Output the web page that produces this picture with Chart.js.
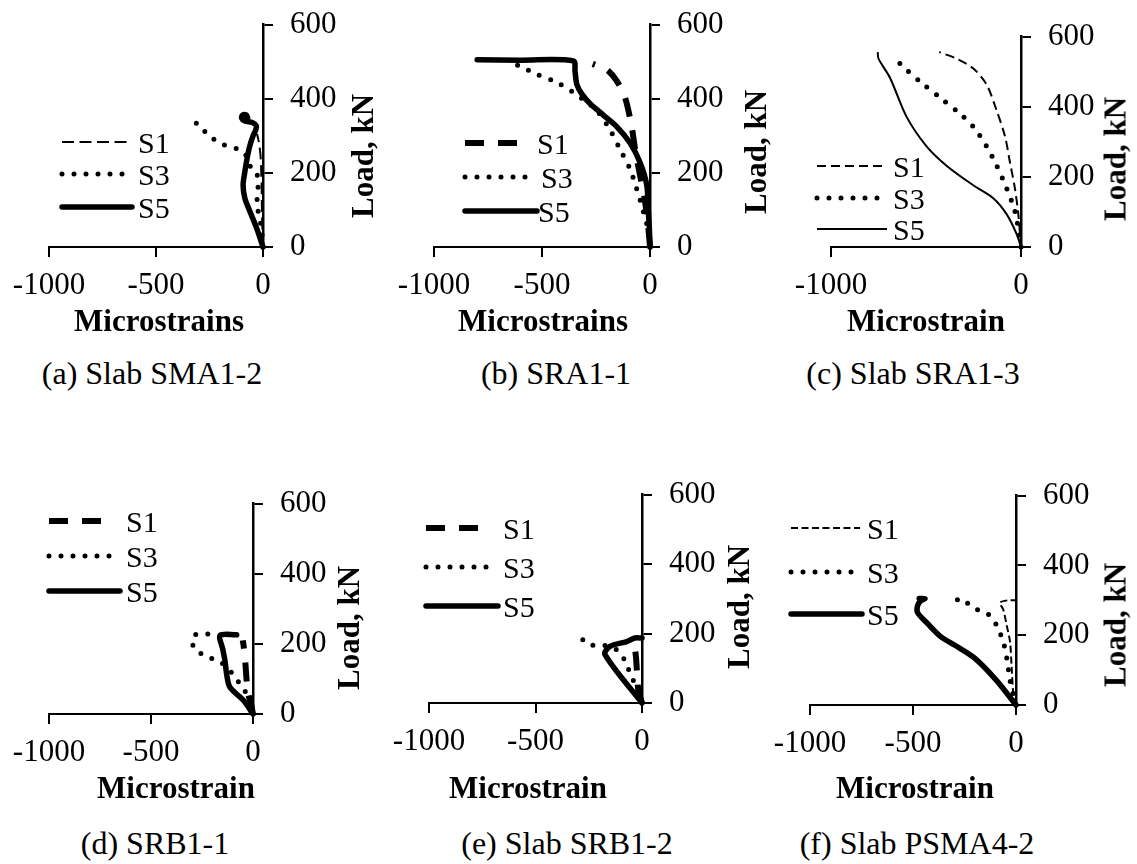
<!DOCTYPE html>
<html><head><meta charset="utf-8">
<script src="https://cdn.jsdelivr.net/npm/chart.js@4.4.1/dist/chart.umd.min.js"></script>
<style>
html,body{margin:0;padding:0;background:#fff;}
#fig{position:relative;width:1137px;height:864px;overflow:hidden;background:#fff;font-family:"Liberation Serif","Times New Roman",serif;color:#000;}
#fig canvas{position:absolute;}
.t{position:absolute;white-space:nowrap;line-height:1;transform:translateX(-50%);}
.cap{font-size:32px;}
.xt{font-size:31px;font-weight:bold;}
.yt{position:absolute;white-space:nowrap;line-height:1;font-size:31px;font-weight:bold;transform:translate(-50%,-50%) rotate(-90deg);}
</style></head><body><div id="fig"></div>
<script>
// ---------------- data (microstrain, load kN) ----------------
const seriesNames = ['S1', 'S3', 'S5'];
const xTicksMain = [-1000, -500, 0];
const xTicksWide = [-1000, 0];
const yTicks = [0, 200, 400, 600];

const a_S1 = [[0,0],[-3,50],[-5,100],[-6,150],[-8,200],[-12,250],[-20,285],[-28,305]];
const a_S3 = [[0,0],[-8,53],[-23,97],[-28,123],[-23,167],[-31,202],[-62,220],[-78,246],[-117,264],[-187,277],[-249,299],[-295,325],[-345,351]];
const a_S5 = [[0,0],[-31,53],[-62,97],[-85,132],[-93,167],[-85,202],[-75,237],[-62,272],[-47,299],[-34,316],[-31,327],[-50,336],[-85,340],[-100,348],[-95,356],[-78,356],[-72,349]];

const b_S1 = [[0,0],[-8,53],[-23,123],[-46,193],[-69,264],[-85,325],[-116,404],[-154,448],[-201,479],[-265,494]];
const b_S3 = [[0,0],[-8,44],[-31,97],[-62,158],[-93,211],[-139,264],[-185,316],[-247,369],[-293,391],[-355,417],[-432,444],[-525,466],[-580,482],[-640,497]];
const b_S5 = [[0,0],[-3,50],[-8,100],[-15,167],[-46,228],[-93,281],[-154,325],[-216,356],[-278,387],[-316,413],[-339,439],[-347,474],[-355,502],[-600,504],[-800,505]];

const c_S1 = [[0,0],[-14,93],[-32,167],[-58,241],[-84,315],[-128,389],[-181,463],[-251,509],[-339,537],[-430,556]];
const c_S3 = [[0,0],[-9,37],[-32,102],[-75,167],[-128,232],[-181,287],[-251,343],[-321,380],[-426,426],[-532,472],[-637,523],[-675,551]];
const c_S5 = [[0,0],[-23,37],[-75,93],[-146,139],[-251,176],[-392,232],[-497,287],[-602,371],[-689,482],[-750,537],[-754,556]];

const d_S1 = [[0,0],[-10,30],[-23,57],[-31,95],[-38,150],[-45,190],[-50,210]];
const d_S3 = [[0,0],[-6,20],[-31,57],[-64,85],[-97,113],[-162,150],[-211,160],[-260,174],[-292,192],[-296,215],[-284,226],[-244,228],[-195,228]];
const d_S5 = [[0,0],[-47,39],[-113,76],[-129,113],[-137,150],[-149,187],[-162,224],[-80,226]];

const e_S1 = [[0,0],[-17,37],[-22,75],[-25,103],[-28,130],[-33,159],[-35,170]];
const e_S3 = [[0,0],[-17,28],[-41,65],[-64,98],[-80,121],[-103,145],[-150,163],[-197,166],[-244,168],[-275,182],[-323,177]];
const e_S5 = [[0,0],[-174,140],[-150,163],[-72,177],[-33,187],[0,187]];

const f_S1 = [[0,0],[-13,33],[-21,107],[-29,181],[-45,228],[-62,274],[-78,293],[-40,300],[0,300]];
const f_S3 = [[0,0],[-29,70],[-45,135],[-62,181],[-94,228],[-126,256],[-175,270],[-223,284],[-256,304],[-304,298]];
const f_S5 = [[0,0],[-94,70],[-202,135],[-299,172],[-364,195],[-429,233],[-478,265],[-478,284],[-464,298],[-442,305],[-470,305]];

const captions = ['(a) Slab SMA1-2', '(b) SRA1-1', '(c) Slab SRA1-3', '(d) SRB1-1', '(e) Slab SRB1-2', '(f) Slab PSMA4-2'];
const xTitles = ['Microstrains', 'Microstrains', 'Microstrain', 'Microstrain', 'Microstrain', 'Microstrain'];
const yTitle = 'Load, kN';

// ---------------- styles & layout ----------------
const FONT = '"Liberation Serif", "Times New Roman", serif';
const STYLES = {
  thinDash:   {w:2,   dash:[12,5.5], cap:'butt'},
  thinDashC:  {w:2,   dash:[9,5],  cap:'butt'},
  shortDash:  {w:2,   dash:[7,3.5],  cap:'butt'},
  thickDash:  {w:6,   dash:[19,14], cap:'butt'},
  dotted:     {w:5,   dash:[0,12], cap:'round'},
  thickSolid: {w:5.5, dash:[],     cap:'round'},
  thinSolid:  {w:2,   dash:[],     cap:'butt'}
};

const panels = [
  {area:{l:49,t:19,w:214,h:228}, ticks:xTicksMain, data:[a_S1,a_S3,a_S5], st:['thinDash','dotted','thickSolid'],
   leg:[{x1:62,x2:127,y:142,tx:138},{x1:62,x2:127,y:174,tx:138},{x1:62,x2:132,y:207,tx:138}],
   cap:{x:152,y:357}, xt:{x:159,y:305}, yt:{x:362,y:156}},
  {area:{l:434,t:19,w:216,h:228}, ticks:xTicksMain, data:[b_S1,b_S3,b_S5], st:['thickDash','dotted','thickSolid'],
   leg:[{x1:465,x2:522,y:143,tx:537},{x1:465,x2:532,y:177,tx:541},{x1:465,x2:537,y:211,tx:538}],
   cap:{x:556,y:357}, xt:{x:543,y:305}, yt:{x:755,y:152}},
  {area:{l:831,t:31,w:190,h:216}, ticks:xTicksWide, data:[c_S1,c_S3,c_S5], st:['thinDashC','dotted','thinSolid'],
   leg:[{x1:817,x2:882,y:166,tx:893},{x1:817,x2:882,y:198,tx:893},{x1:817,x2:887,y:229,tx:893}],
   cap:{x:913,y:357}, xt:{x:926,y:305}, yt:{x:1115,y:159}},
  {area:{l:49,t:498,w:204,h:216}, ticks:xTicksMain, data:[d_S1,d_S3,d_S5], st:['thickDash','dotted','thickSolid'],
   leg:[{x1:49,x2:105,y:521,tx:126},{x1:49,x2:115,y:556,tx:126},{x1:49,x2:120,y:591,tx:126}],
   cap:{x:155,y:827}, xt:{x:176,y:772}, yt:{x:348,y:628}},
  {area:{l:429,t:489,w:213,h:214}, ticks:xTicksMain, data:[e_S1,e_S3,e_S5], st:['thickDash','dotted','thickSolid'],
   leg:[{x1:426,x2:482,y:528,tx:503},{x1:426,x2:492,y:567,tx:503},{x1:426,x2:498,y:606,tx:503}],
   cap:{x:567,y:827}, xt:{x:528,y:772}, yt:{x:738,y:607}},
  {area:{l:810,t:490,w:206,h:215}, ticks:xTicksMain, data:[f_S1,f_S3,f_S5], st:['shortDash','dotted','thickSolid'],
   leg:[{x1:791,x2:860,y:528,tx:867},{x1:791,x2:856,y:572,tx:867},{x1:791,x2:862,y:614,tx:867}],
   cap:{x:917,y:827}, xt:{x:915,y:772}, yt:{x:1115,y:625}}
];

const PL = 60, PT = 30, WY = 130, HX = 60;
const fig = document.getElementById('fig');

function addText(cls, txt, x, y) {
  const d = document.createElement('div');
  d.className = cls; d.textContent = txt;
  d.style.left = x + 'px'; d.style.top = y + 'px';
  fig.appendChild(d);
}

const legendPlugin = {
  id: 'inlineLegend',
  afterDatasetsDraw(chart, args, opts) {
    const ctx = chart.ctx;
    const p = opts.panel, ox = opts.ox, oy = opts.oy;
    ctx.save();
    p.leg.forEach((L, i) => {
      const s = STYLES[p.st[i]];
      ctx.beginPath();
      ctx.strokeStyle = '#000';
      ctx.lineWidth = s.w;
      ctx.lineCap = s.cap;
      ctx.setLineDash(s.dash);
      ctx.moveTo(L.x1 - ox, L.y - oy);
      ctx.lineTo(L.x2 - ox, L.y - oy);
      ctx.stroke();
      ctx.setLineDash([]);
      ctx.fillStyle = '#000';
      ctx.font = '30px ' + FONT;
      ctx.textAlign = 'left';
      ctx.textBaseline = 'alphabetic';
      ctx.fillText(seriesNames[i], L.tx - ox, L.y - oy + 11);
    });
    ctx.restore();
  }
};

function build() {
  Chart.defaults.font.family = FONT;
  panels.forEach((p, k) => {
    const cv = document.createElement('canvas');
    const W = PL + p.area.w + WY, H = PT + p.area.h + HX;
    cv.width = W; cv.height = H;
    cv.style.width = W + 'px'; cv.style.height = H + 'px';
    const ox = p.area.l - PL, oy = p.area.t - PT;
    cv.style.left = ox + 'px'; cv.style.top = oy + 'px';
    fig.appendChild(cv);

    const tickFont = {family: FONT, size: 31};
    new Chart(cv, {
      type: 'line',
      data: {
        datasets: p.data.map((d, i) => {
          const s = STYLES[p.st[i]];
          return {
            label: seriesNames[i],
            data: d.map(q => ({x: q[0], y: q[1]})),
            borderColor: '#000',
            borderWidth: s.w,
            borderDash: s.dash,
            borderCapStyle: s.cap,
            borderJoinStyle: 'round',
            pointRadius: 0,
            tension: 0.3,
            fill: false,
            clip: false
          };
        })
      },
      options: {
        responsive: false, animation: false, devicePixelRatio: 1,
        layout: {padding: {left: PL, top: PT, right: 0, bottom: 0}},
        plugins: {legend: {display: false}, tooltip: {enabled: false},
                  inlineLegend: {panel: p, ox: ox, oy: oy}},
        scales: {
          x: {
            type: 'linear', position: 'bottom', min: -1000, max: 0,
            afterBuildTicks: s => { s.ticks = p.ticks.map(v => ({value: v})); },
            ticks: {callback: v => String(v), color: '#000', font: tickFont, padding: 10, maxRotation: 0, autoSkip: false},
            grid: {drawOnChartArea: false, drawTicks: true, tickLength: 10, color: '#000', lineWidth: 2},
            border: {display: true, color: '#000', width: 2},
            afterFit: s => { s.height = HX; }
          },
          y: {
            type: 'linear', position: 'right', min: 0, max: 600,
            afterBuildTicks: s => { s.ticks = yTicks.map(v => ({value: v})); },
            ticks: {callback: v => String(v), color: '#000', font: tickFont, padding: 17, autoSkip: false},
            grid: {drawOnChartArea: false, drawTicks: true, tickLength: 10, color: '#000', lineWidth: 2},
            border: {display: true, color: '#000', width: 2.5},
            afterFit: s => { s.width = WY; }
          }
        }
      },
      plugins: [legendPlugin]
    });

    addText('t cap', captions[k], p.cap.x, p.cap.y);
    addText('t xt', xTitles[k], p.xt.x, p.xt.y);
    addText('yt', yTitle, p.yt.x, p.yt.y);
  });
}

let built = false;
function go() { if (!built) { built = true; build(); } }
if (document.fonts && document.fonts.load) {
  Promise.all([
    document.fonts.load('31px "Liberation Serif"'),
    document.fonts.load('bold 31px "Liberation Serif"')
  ]).then(go, go);
  setTimeout(go, 1500);
} else { go(); }
</script>
</body></html>
